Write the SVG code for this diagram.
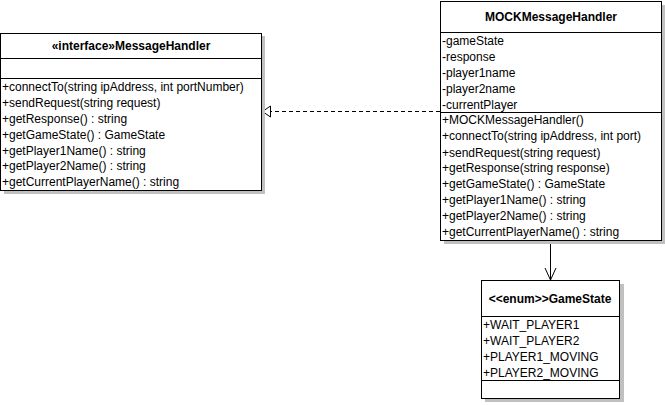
<svg xmlns="http://www.w3.org/2000/svg" width="665" height="405" viewBox="0 0 665 405">
<style>
.box{fill:#fff;stroke:#000;stroke-width:1}
.sh{fill:#c0c0c0}
.ln{stroke:#000;stroke-width:1;fill:none}
text{font-family:"Liberation Sans",Arial,sans-serif;font-size:12px;fill:#000}
.t{font-weight:bold;text-anchor:middle}
</style>
<defs>
<marker id="tri" markerWidth="10" markerHeight="12" refX="0.5" refY="6" orient="auto" markerUnits="userSpaceOnUse">
<path d="M9,1 L1,6 L9,11 Z" fill="#fff" stroke="#000"/>
</marker>
</defs>
<rect width="665" height="405" fill="#fff"/>
<g id="connectors">
<line class="ln" x1="440" y1="111.5" x2="270" y2="111.5" stroke-dasharray="4,3"/>
<path d="M270.5,106 L262.5,111.5 L270.5,117 Z" fill="#fff" stroke="#000"/>
<line class="ln" x1="550.5" y1="240" x2="550.5" y2="280"/>
<path class="ln" d="M545,268 L550.5,280 L556,268"/>
</g>
<g id="MessageHandler">
<rect class="sh" x="4" y="36" width="261" height="158"/>
<rect class="box" x="0.5" y="33.5" width="261" height="157"/>
<line class="ln" x1="0" y1="58.5" x2="261" y2="58.5"/>
<line class="ln" x1="0" y1="78.5" x2="261" y2="78.5"/>
<text class="t" x="131" y="50">«interface»MessageHandler</text>
<text x="2" y="91">+connectTo(string ipAddress, int portNumber)</text>
<text x="2" y="107">+sendRequest(string request)</text>
<text x="2" y="123">+getResponse() : string</text>
<text x="2" y="139">+getGameState() : GameState</text>
<text x="2" y="155">+getPlayer1Name() : string</text>
<text x="2" y="170">+getPlayer2Name() : string</text>
<text x="2" y="186">+getCurrentPlayerName() : string</text>
</g>
<g id="MOCKMessageHandler">
<rect class="sh" x="444" y="5" width="221" height="239"/>
<rect class="box" x="440.5" y="1.5" width="221" height="239"/>
<line class="ln" x1="440" y1="32.5" x2="661" y2="32.5"/>
<line class="ln" x1="440" y1="112.5" x2="661" y2="112.5"/>
<text class="t" x="551" y="21">MOCKMessageHandler</text>
<text x="442" y="45">-gameState</text>
<text x="442" y="61">-response</text>
<text x="442" y="77">-player1name</text>
<text x="442" y="93">-player2name</text>
<text x="442" y="109">-currentPlayer</text>
<text x="442" y="124">+MOCKMessageHandler()</text>
<text x="442" y="140">+connectTo(string ipAddress, int port)</text>
<text x="442" y="157">+sendRequest(string request)</text>
<text x="442" y="172">+getResponse(string response)</text>
<text x="442" y="188">+getGameState() : GameState</text>
<text x="442" y="204">+getPlayer1Name() : string</text>
<text x="442" y="220">+getPlayer2Name() : string</text>
<text x="442" y="236">+getCurrentPlayerName() : string</text>
</g>
<g id="GameState">
<rect class="sh" x="485" y="284" width="139" height="118"/>
<rect class="box" x="481.5" y="280.5" width="138" height="118"/>
<line class="ln" x1="481" y1="316.5" x2="619" y2="316.5"/>
<line class="ln" x1="481" y1="380.5" x2="619" y2="380.5"/>
<text class="t" x="550" y="303">&lt;&lt;enum&gt;&gt;GameState</text>
<text x="483" y="329">+WAIT_PLAYER1</text>
<text x="483" y="345">+WAIT_PLAYER2</text>
<text x="483" y="361">+PLAYER1_MOVING</text>
<text x="483" y="377">+PLAYER2_MOVING</text>
</g>
</svg>
